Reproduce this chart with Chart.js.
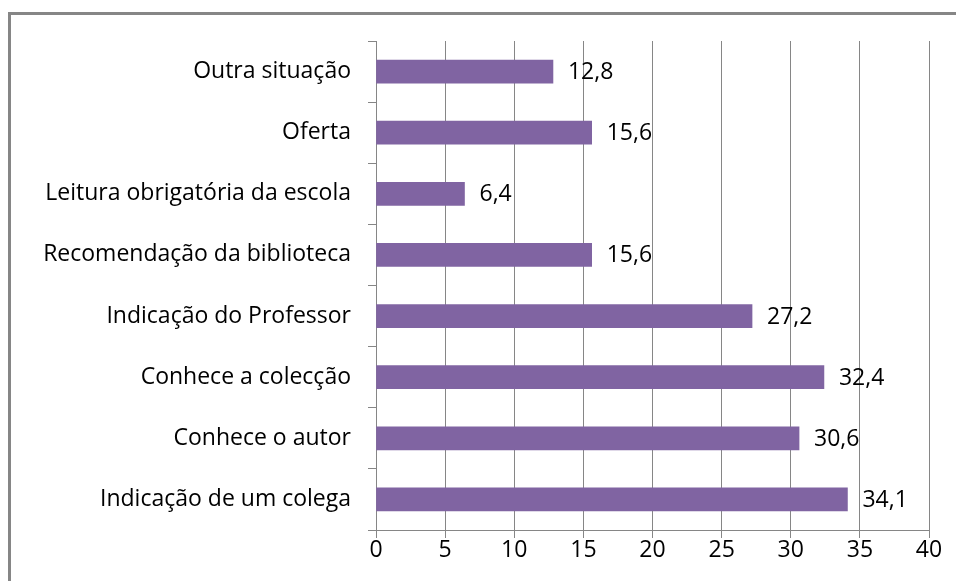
<!DOCTYPE html>
<html>
<head>
<meta charset="utf-8">
<script src="https://cdn.jsdelivr.net/npm/chart.js@4"></script>
<style>
  html, body { margin: 0; padding: 0; background: #fff; }
  #wrap { width: 956px; height: 581px; position: relative; }
</style>
</head>
<body>
<div id="wrap"><canvas id="grafico" width="956" height="581"></canvas></div>
<script>
// === Dati ===
const categorie = [
  "Outra situação",
  "Oferta",
  "Leitura obrigatória da escola",
  "Recomendação da biblioteca",
  "Indicação do Professor",
  "Conhece a colecção",
  "Conhece o autor",
  "Indicação de um colega"
];
const percentuali = [12.8, 15.6, 6.4, 15.6, 27.2, 32.4, 30.6, 34.1];
const tickX = [0, 5, 10, 15, 20, 25, 30, 35, 40];

const grigio = "#868686";
const viola = "#8064A2";
const font = { family: "'Open Sans', Lato, sans-serif", size: 23 };

// bordo esterno del grafico (come in Excel)
const bordo = {
  id: "bordo",
  beforeDraw(chart) {
    const ctx = chart.ctx;
    ctx.save();
    ctx.strokeStyle = grigio;
    ctx.lineWidth = 3;
    ctx.beginPath();
    ctx.moveTo(9.5, 600);
    ctx.lineTo(9.5, 13.5);
    ctx.lineTo(970, 13.5);
    ctx.stroke();
    ctx.restore();
  }
};

// etichette dei valori a destra delle barre
const etichette = {
  id: "etichette",
  afterDatasetsDraw(chart) {
    const ctx = chart.ctx;
    const meta = chart.getDatasetMeta(0);
    ctx.save();
    ctx.fillStyle = "#000";
    ctx.font = font.size + "px " + font.family;
    ctx.textAlign = "left";
    ctx.textBaseline = "middle";
    meta.data.forEach((bar, i) => {
      const testo = percentuali[i].toFixed(1).replace(".", ",");
      ctx.fillText(testo, bar.x + 15, bar.y + 1);
    });
    ctx.restore();
  }
};

new Chart(document.getElementById("grafico"), {
  type: "bar",
  data: {
    labels: categorie,
    datasets: [{
      data: percentuali,
      backgroundColor: viola,
      borderWidth: 0,
      barThickness: 23
    }]
  },
  options: {
    indexAxis: "y",
    responsive: false,
    animation: false,
    layout: { padding: { left: 0, right: 27, top: 41, bottom: 0 } },
    plugins: {
      legend: { display: false },
      tooltip: { enabled: false }
    },
    scales: {
      x: {
        min: 0,
        max: 40,
        afterBuildTicks: scale => { scale.ticks = tickX.map(v => ({ value: v })); },
        afterFit: scale => { scale.height = 51; },
        grid: { color: grigio, tickLength: 8, lineWidth: 1 },
        border: { color: grigio, width: 1 },
        ticks: { color: "#000", font: font, padding: -1, maxRotation: 0 }
      },
      y: {
        afterFit: scale => { scale.width = 376; },
        grid: { color: grigio, drawOnChartArea: false, tickLength: 8, offset: true },
        border: { color: grigio, width: 1 },
        ticks: { color: "#000", font: font, padding: 17 }
      }
    }
  },
  plugins: [bordo, etichette]
});
</script>
</body>
</html>
